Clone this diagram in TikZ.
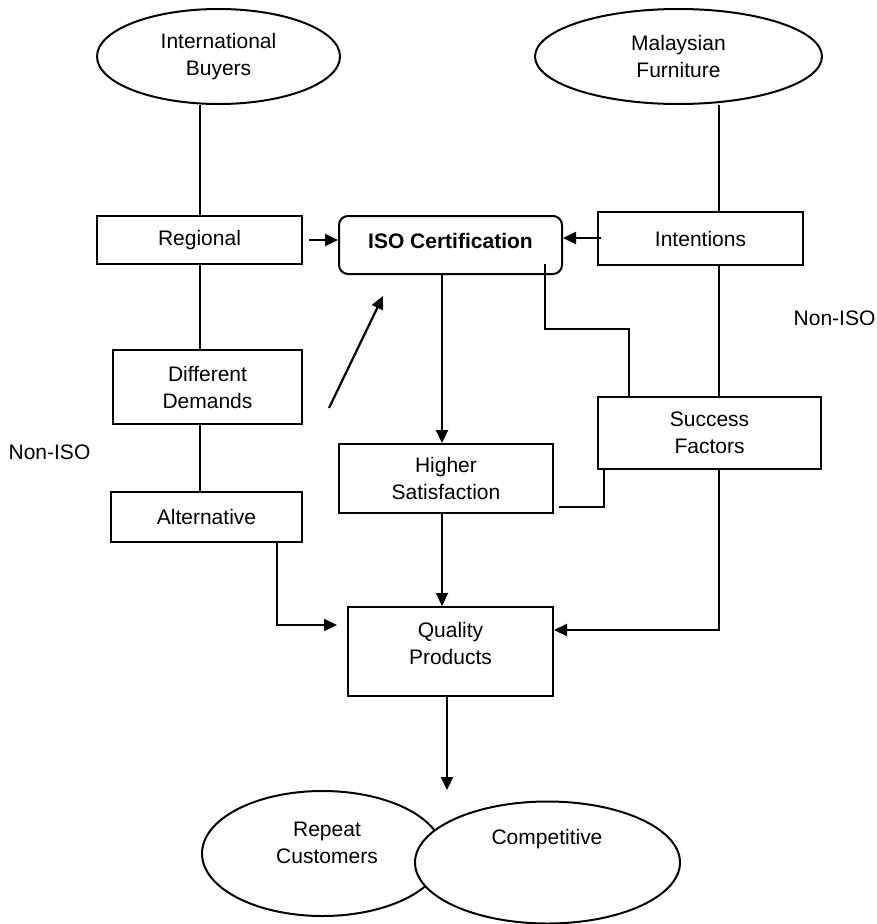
\documentclass[tikz,border=0pt]{standalone}
\usepackage{fontspec}
\setmainfont{Liberation Sans}
\usetikzlibrary{shapes.geometric,arrows.meta}
\begin{document}
\begin{tikzpicture}[x=1pt,y=-1pt,
  every node/.style={font=\fontsize{21}{27}\selectfont, align=center},
  ln/.style={line width=2pt},
  arr/.style={line width=2.2pt,-{Triangle[length=13pt,width=12pt]}},
  boxr/.style={draw,line width=2pt,rectangle,fill=white,inner sep=0pt},
  isobox/.style={draw,line width=2pt,rectangle,rounded corners=9pt,fill=white,inner sep=0pt},
  ell/.style={draw,line width=2pt,ellipse,fill=white,inner sep=0pt},
  txt/.style={inner sep=0pt}]
\useasboundingbox (0,0) rectangle (876,924);
% ellipses top
\node[ell,minimum width=243pt,minimum height=95pt] (ib) at (218.5,56.5) {International\\Buyers};
\node[ell,minimum width=287pt,minimum height=95pt] (mf) at (678.5,56.5) {Malaysian\\Furniture};
% boxes
\node[boxr,minimum width=205pt,minimum height=48pt] (reg) at (199.5,240) {Regional};
\node[isobox,minimum width=223pt,minimum height=58pt,font=\fontsize{21}{27}\selectfont\bfseries,text depth=9pt] (iso) at (450.5,245) {ISO Certification};
\node[boxr,minimum width=205pt,minimum height=53pt] (int) at (700.5,238.5) {Intentions};
\node[boxr,minimum width=189pt,minimum height=74pt] (dd) at (207.5,387) {Different\\Demands};
\node[boxr,minimum width=191pt,minimum height=50pt] (alt) at (206.5,517) {Alternative};
\node[boxr,minimum width=214pt,minimum height=69pt] (hs) at (446,478.5) {Higher\\Satisfaction};
\node[boxr,minimum width=223pt,minimum height=72pt] (sf) at (709.5,433) {Success\\Factors};
\node[boxr,minimum width=205pt,minimum height=89pt] (qp) at (450.5,651.5) {};
\node[txt] (qpt) at (450.5,643) {Quality\\Products};
% bottom ellipses
\node[ell,minimum width=241pt,minimum height=125pt] (rc) at (322.5,853.5) {};
\node[txt] (rct) at (327,843) {Repeat\\Customers};
\node[ell,minimum width=265pt,minimum height=122pt] (comp) at (547.5,862.5) {};
\node[txt] (compt) at (547,839) {Competitive};
% side labels
\node[txt] (nl) at (49.5,452) {Non-ISO};
\node[txt] (nr) at (834.5,318) {Non-ISO};
% helper coordinates
\coordinate (vx) at (719,0);
\coordinate (vc) at (442,0);
\coordinate (b1) at (629,329);
\coordinate (b2) at (604,507);
\coordinate (b3) at (277,625);
\coordinate (d1) at (329,408);
\coordinate (d2) at (383,296);
% left chain
\draw[ln] (reg.north) -- (reg.north |- ib.south);
\draw[ln] (reg.south) -- (reg.north |- dd.north);
\draw[ln] (reg.north |- dd.south) -- (reg.north |- alt.north);
% right chain
\draw[ln] (vx |- mf.south) -- (vx |- int.north);
\draw[ln] (vx |- int.south) -- (vx |- sf.north);
\draw[arr] (vx |- sf.south) |- ([yshift=21.5pt]qp.east);
% arrows into ISO
\draw[arr] ([xshift=6pt,yshift=0pt]reg.east) -- (reg.east -| iso.west);
\draw[arr] ([xshift=4pt,yshift=0.5pt]int.west) -- ([yshift=0.5pt]int.west -| iso.east);
\draw[arr] (d1) -- (d2);
% ISO to success factors
\draw[ln] ([xshift=-18pt,yshift=11pt]iso.south east) |- (b1) -- (b1 |- sf.north);
% success factors to higher satisfaction
\draw[ln] (b2 |- sf.south) -- (b2) -- ([xshift=5pt]hs.east |- b2);
% vertical centre arrows
\draw[arr] (vc |- iso.south) -- (vc |- hs.north);
\draw[arr] (vc |- hs.south) -- (vc |- qp.north);
% alternative to quality
\draw[arr] (b3 |- alt.south) |- ([xshift=-10pt]qp.west |- b3);
% quality to outcomes
\draw[arr] ([xshift=-3.5pt]qp.south) -- ([xshift=-3.5pt]qp.south |- rc.north);
\end{tikzpicture}
\end{document}
